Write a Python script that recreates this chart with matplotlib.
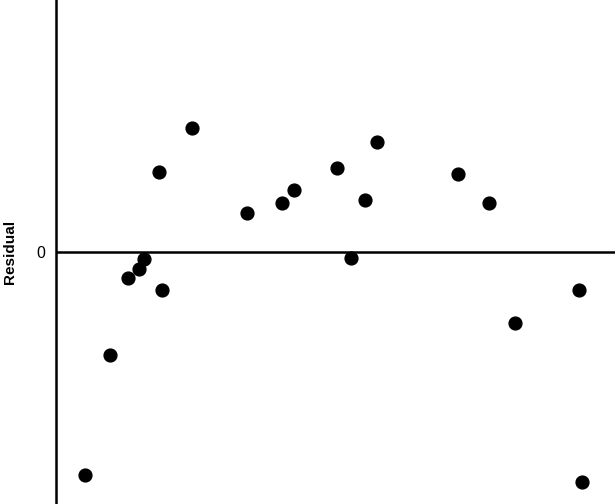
import matplotlib
matplotlib.use("Agg")
import matplotlib.pyplot as plt

plt.rcParams['font.family'] = ['Liberation Sans', 'DejaVu Sans']

# fitted values (x) and residuals (y)
fitted = [5.24, 9.66, 12.93, 14.79, 15.74, 18.43, 18.96, 24.33, 34.22, 40.38,
          42.58, 50.21, 52.72, 55.28, 57.42, 71.97, 77.46, 82.11, 93.61, 94.04]
residual = [-2.23, -1.03, -0.26, -0.17, -0.07, 0.80, -0.38, 1.24, 0.39, 0.49,
            0.62, 0.84, -0.06, 0.52, 1.10, 0.78, 0.49, -0.71, -0.38, -2.30]

fig = plt.figure(figsize=(6.15, 5.04), dpi=100)
ax = fig.add_axes([56 / 615, 0, 1 - 56 / 615, 1])

ax.scatter(fitted, residual, s=85, color='black', zorder=3)
ax.axhline(0, color='black', linewidth=1.8, zorder=2)

ax.set_xlim(0, 100)
ax.set_ylim(-2.52, 2.52)

for side in ['top', 'right', 'bottom']:
    ax.spines[side].set_visible(False)
ax.spines['left'].set_linewidth(1.8)

ax.set_xticks([])
ax.set_yticks([0])
ax.tick_params(axis='y', length=0, pad=8, labelsize=11.5)

# axis title sits close to the left edge
fig.text(10 / 615, 0.5, 'Residual', rotation=90, fontsize=11,
         fontweight='bold', ha='center', va='center')

fig.savefig('out.png', dpi=100)
